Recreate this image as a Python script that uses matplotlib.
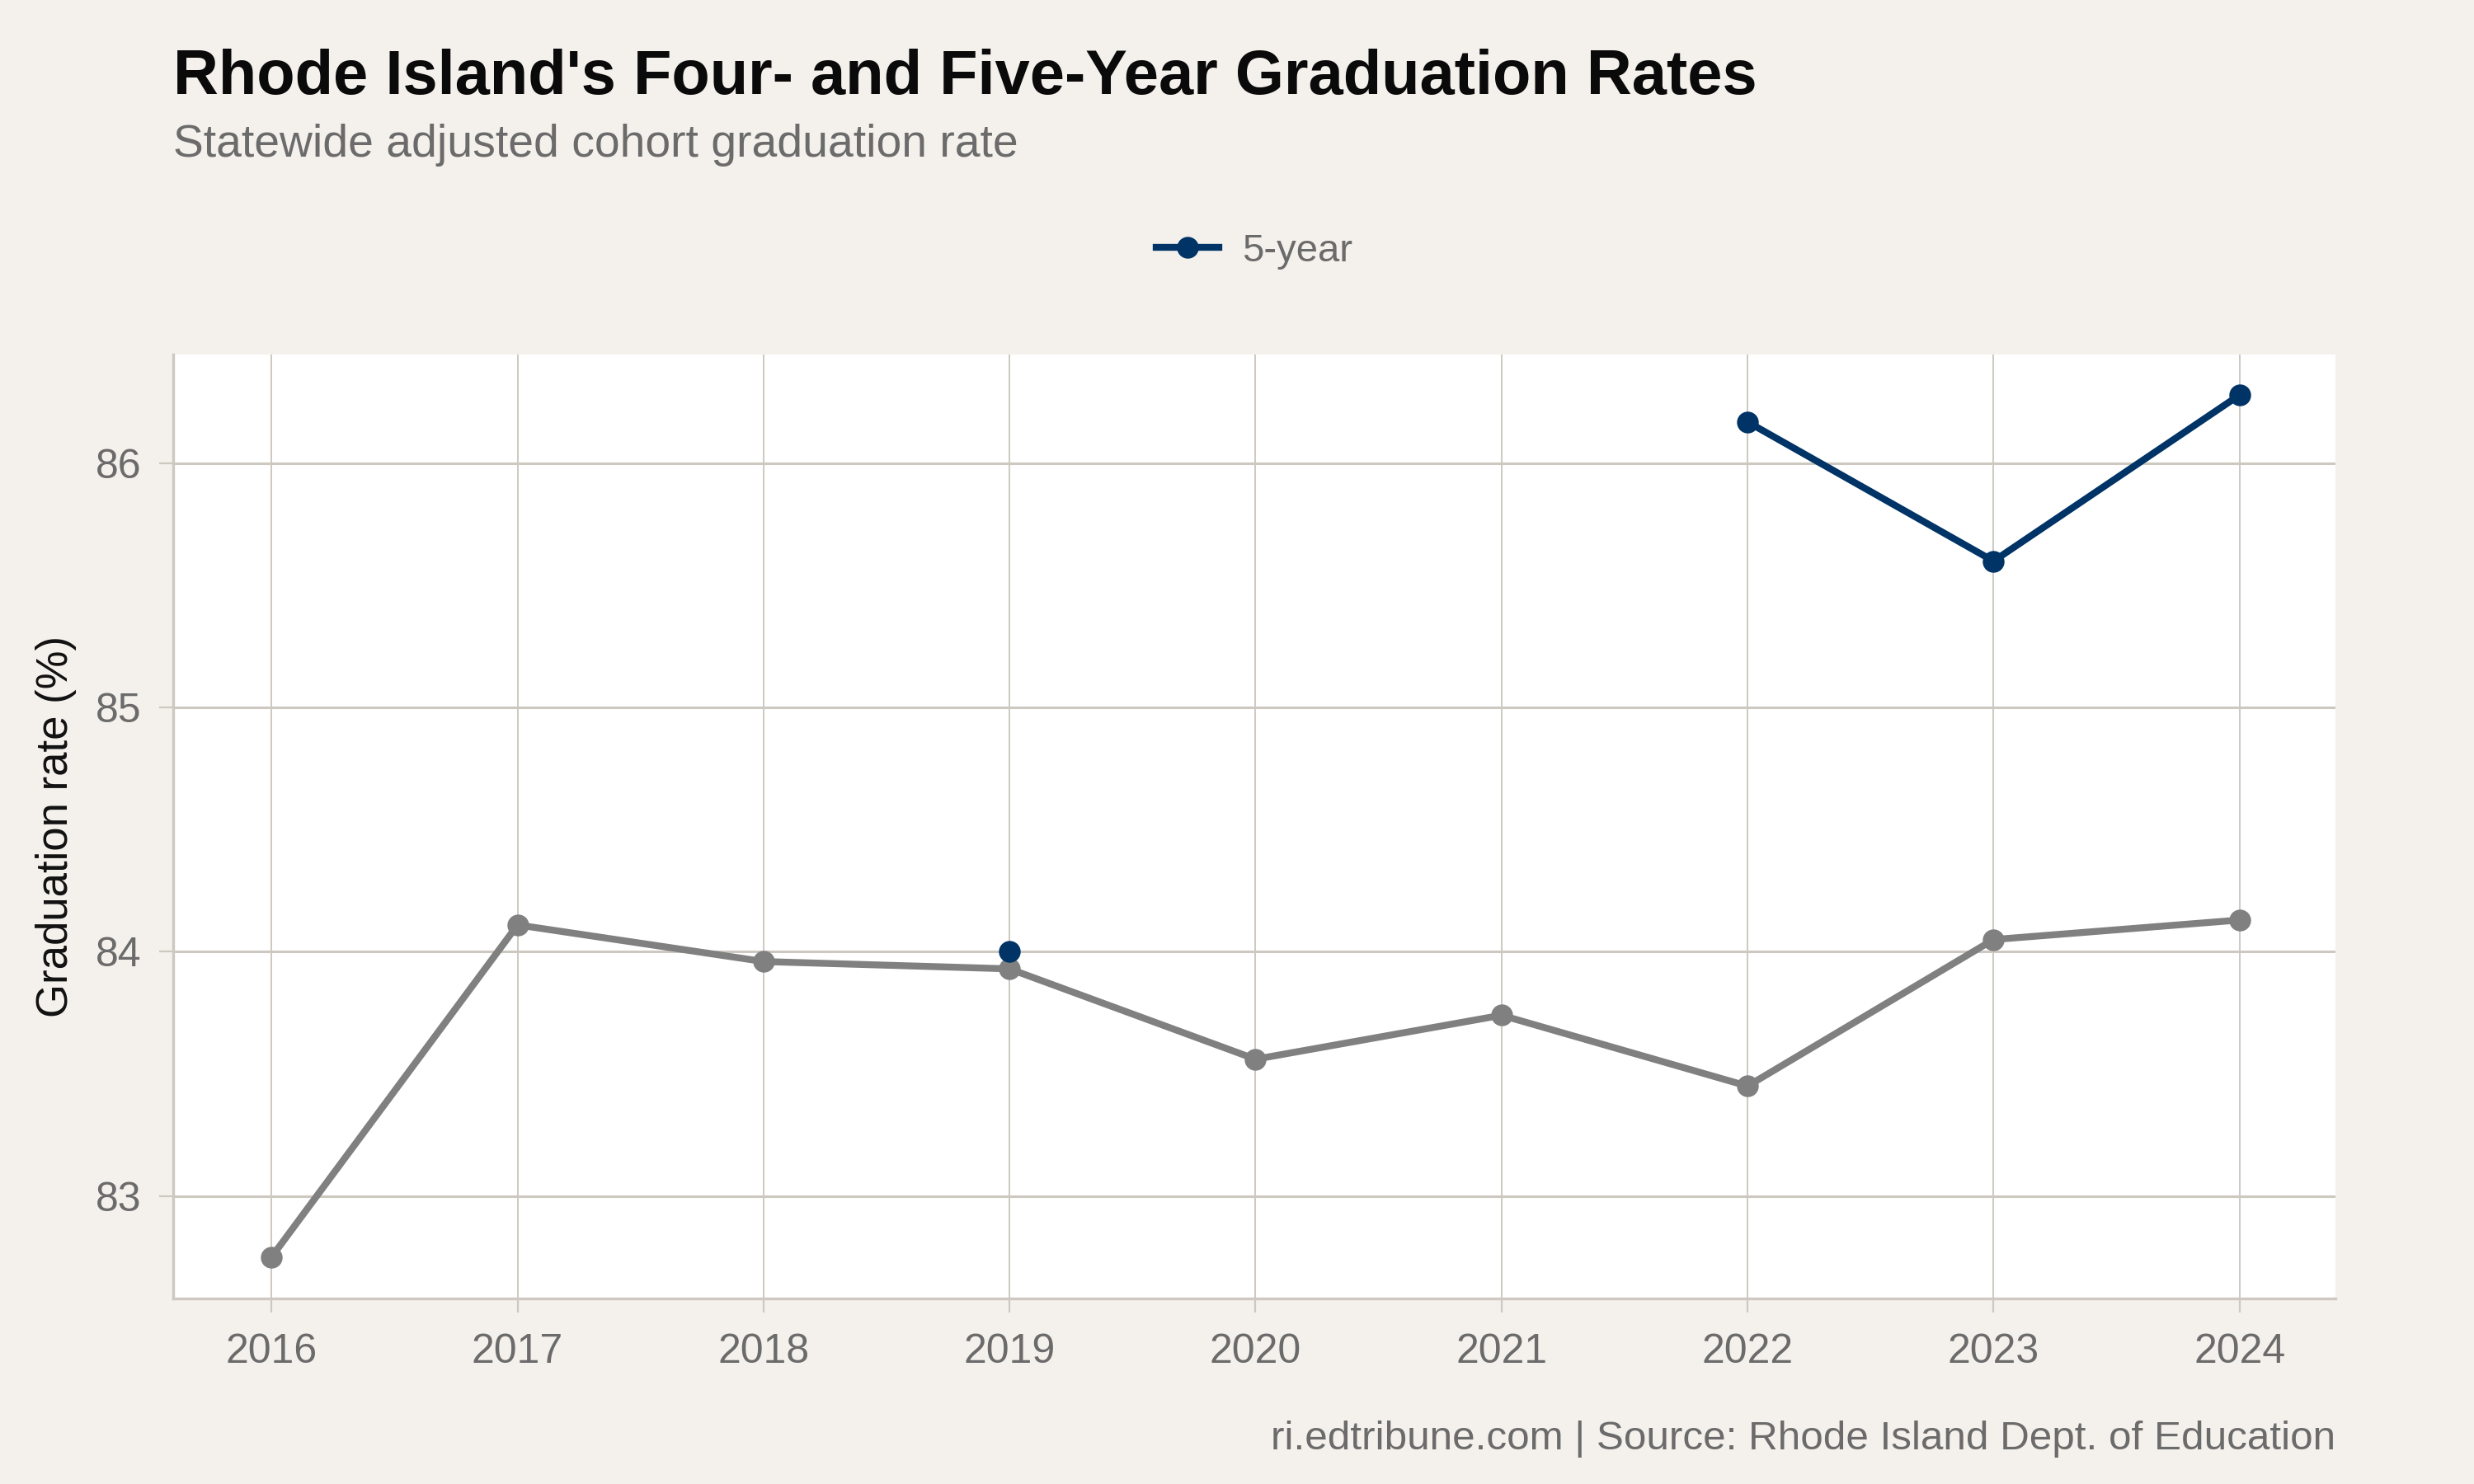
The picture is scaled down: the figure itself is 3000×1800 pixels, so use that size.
import matplotlib
matplotlib.use("Agg")
import matplotlib.pyplot as plt
from matplotlib.lines import Line2D

years = [2016, 2017, 2018, 2019, 2020, 2021, 2022, 2023, 2024]
four_year = [82.75, 84.11, 83.96, 83.93, 83.56, 83.74, 83.45, 84.05, 84.13]
five_year_years = [2019, 2022, 2023, 2024]
five_year = [84.00, 86.17, 85.60, 86.28]
y_ticks = [83, 84, 85, 86]

title = "Rhode Island's Four- and Five-Year Graduation Rates"
subtitle = "Statewide adjusted cohort graduation rate"
caption = "ri.edtribune.com | Source: Rhode Island Dept. of Education"
ylabel = "Graduation rate (%)"

BG = "#f4f1ec"
GRID = "#cdc8c0"
NAVY = "#003366"
GRAY = "#808080"
TXT = "#6b6b6b"

plt.rcParams['font.family'] = ['Liberation Sans', 'DejaVu Sans']

fig = plt.figure(figsize=(15, 9), dpi=200, facecolor=BG)
ax = fig.add_axes([210/3000, 1 - 1575/1800, (2832-210)/3000, (1575-430)/1800])
ax.set_facecolor("white")

LW = 3.0
MS = 8.5
ax.plot(years, four_year, color=GRAY, lw=LW, marker='o', ms=MS, zorder=3)
# 2019 single five-year point (not connected)
ax.plot(five_year_years[:1], five_year[:1], color=NAVY, lw=0, marker='o', ms=MS, zorder=4)
ax.plot(five_year_years[1:], five_year[1:], color=NAVY, lw=LW, marker='o', ms=MS, zorder=4)

ax.set_xlim(2015.6, 2024.39)
ax.set_ylim(82.58, 86.446)
ax.set_xticks(years)
ax.set_xticklabels([str(y) for y in years])
ax.set_yticks(y_ticks)
ax.set_yticklabels([str(t) for t in y_ticks])

ax.grid(axis='y', color=GRID, lw=1.1)
ax.grid(axis='x', color=GRID, lw=0.7)
ax.set_axisbelow(True)
for s in ['top', 'right']:
    ax.spines[s].set_visible(False)
for s in ['left', 'bottom']:
    ax.spines[s].set_color(GRID)
    ax.spines[s].set_linewidth(1.2)
ax.tick_params(axis='both', colors=GRID, labelcolor=TXT, labelsize=18, length=6, width=0.8)
ax.tick_params(axis='x', pad=9)
ax.tick_params(axis='y', pad=8)
ax.set_ylabel(ylabel, fontsize=19, color="#111111", labelpad=8)

fig.text(210/3000, 1 - 114/1800, title, fontsize=27.3, fontweight='bold', color="#0a0a0a", ha='left', va='baseline')
fig.text(210/3000, 1 - 190/1800, subtitle, fontsize=19.9, color=TXT, ha='left', va='baseline')
fig.text(2832/3000, 1 - 1758/1800, caption, fontsize=17.8, color=TXT, ha='right', va='baseline')

handle = Line2D([0], [0], color=NAVY, lw=LW, marker='o', ms=MS)
leg = fig.legend([handle], ["5-year"], loc='center', bbox_to_anchor=((210+2832)/2/3000, 1 - 305/1800),
                 frameon=False, fontsize=17, handlelength=1.6, handletextpad=0.6)
for t in leg.get_texts():
    t.set_color(TXT)

fig.savefig("out.png", dpi=200, facecolor=BG)
